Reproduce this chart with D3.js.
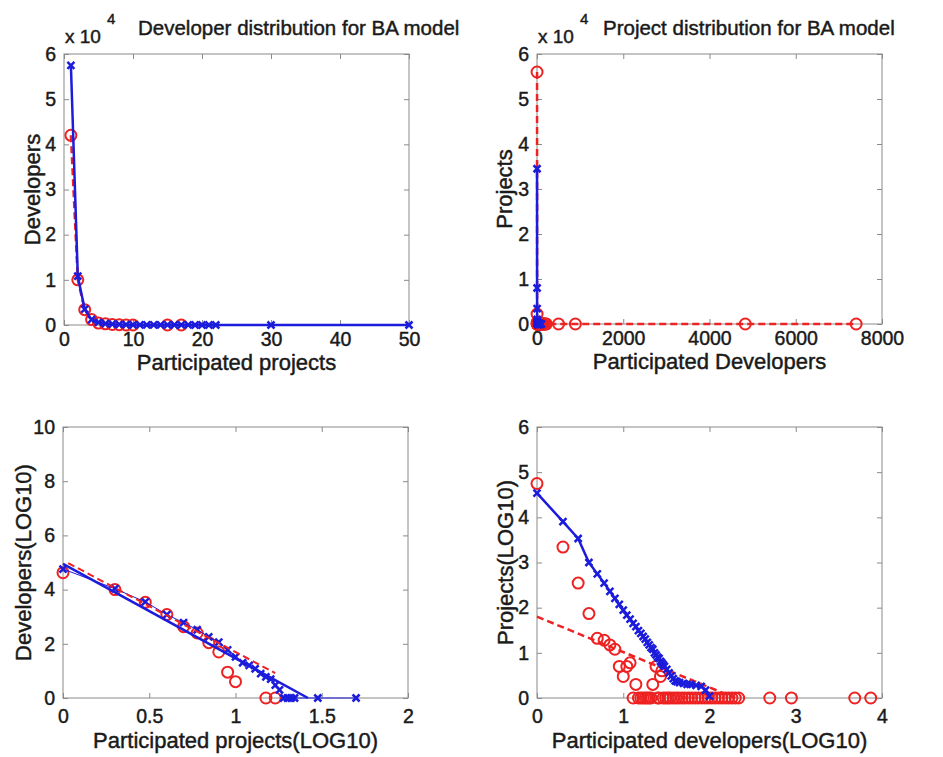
<!DOCTYPE html>
<html>
<head>
<meta charset="utf-8">
<script src="https://cdn.jsdelivr.net/npm/d3@7"></script>
<style>
  body { margin: 0; background: #fff; }
  text { font-family: "Liberation Sans", Arial, sans-serif; fill: #1a1a1a; stroke: #1a1a1a; stroke-width: 0.45px; }
</style>
</head>
<body>
<div id="chart"></div>
<script>
// ---- developer distribution (participated projects -> number of developers)
const devDegBlue = [1, 2, 3, 4, 5, 6, 7, 8, 9, 10, 11, 12, 13, 14, 15, 16, 17, 18, 19, 20, 21, 22, 30, 50]
const devCntBlue = [57500, 10800, 3500, 1200, 600, 330, 180, 115, 60, 33, 20, 16, 12, 8, 6, 5, 3, 2, 1, 1, 1, 1, 1, 1]
const devDegRed = [1, 2, 3, 4, 5, 6, 7, 8, 9, 10, 15, 17]
const devCntRed = [42000, 10000, 3400, 1200, 430, 250, 110, 50, 9, 4, 1, 1]
// fitted lines in log10 space
const devFitBlueX = [0, 1.42]
const devFitBlueY = [4.95, 0]
const devFitRedX = [0.03, 1.23]
const devFitRedY = [4.98, 0.92]

// ---- project distribution (participated developers -> number of projects)
const projDegBlue = [1, 2, 3, 4, 5, 6, 7, 8, 9, 10, 11, 12, 13, 14, 15, 16, 17, 18, 19, 20, 21, 22, 23, 24, 25,
  26, 27, 28, 29, 30, 32, 34, 36, 38, 40, 42, 45, 50, 55, 60, 70, 80, 90, 100]
const projCntBlue = [34500, 8000, 3400, 1000, 560, 350, 230, 160, 118, 88, 68, 56, 45, 38, 31, 27, 23, 20, 17, 15, 13, 12, 10, 9, 8,
  7.5, 6.5, 6, 5.5, 5, 4.3, 3.6, 3.1, 2.7, 2.4, 2.3, 2.2, 2.1, 2.0, 2.0, 1.9, 1.8, 1.5, 1.1]
const projDegRed = [1, 2, 3, 4, 5, 6, 7, 8, 9, 10, 11, 12, 13, 14, 15, 16, 17, 18, 19, 20, 21, 22, 24, 25, 26, 27, 28, 29,
  31, 33, 35, 38, 41, 44, 48, 52, 57, 62, 68, 74, 81, 89, 97, 106, 116, 127, 139, 152, 166, 182, 199, 218, 500, 890, 4830, 7400]
const projCntRed = [56000, 2200, 350, 74, 21, 19, 15, 12, 5, 3, 5, 6, 1, 2, 1, 1, 1, 1, 1, 1, 1, 2, 5, 1, 1, 3, 4, 1,
  1, 1, 1, 1, 1, 1, 1, 1, 1, 1, 1, 1, 1, 1, 1, 1, 1, 1, 1, 1, 1, 1, 1, 1, 1, 1, 1, 1]
const projFitRedX = [0, 2.3]
const projFitRedY = [1.8, 0]

// ---- ticks and labels
const devLinXTicks = [0, 10, 20, 30, 40, 50]
const projLinXTicks = [0, 2000, 4000, 6000, 8000]
const linYTicks = [0, 10000, 20000, 30000, 40000, 50000, 60000]
const devLogXTicks = [0, 0.5, 1, 1.5, 2]
const devLogYTicks = [0, 2, 4, 6, 8, 10]
const projLogXTicks = [0, 1, 2, 3, 4]
const projLogYTicks = [0, 1, 2, 3, 4, 5, 6]

const titles = ['Developer distribution for BA model', 'Project distribution for BA model']
const xLabels = ['Participated projects', 'Participated Developers', 'Participated projects(LOG10)', 'Participated developers(LOG10)']
const yLabels = ['Developers', 'Projects', 'Developers(LOG10)', 'Projects(LOG10)']

const BLUE = '#1c1cdc'
const RED = '#ee2222'
const GRAY = '#8a8a8a'

const svg = d3.select('#chart').append('svg')
  .attr('width', 943)
  .attr('height', 757)

svg.append('rect').attr('width', 943).attr('height', 757).attr('fill', '#fff')

const log = v => Math.log10(v)
const zip = (xs, ys) => xs.map((x, i) => [x, ys[i]])

const panels = [
  {
    box: { x0: 64, x1: 409, y0: 54, y1: 325 }, pad: 7, labelDy: 45,
    xDomain: [0, 50], yDomain: [0, 60000],
    xTicks: devLinXTicks, yTicks: linYTicks, xFmt: d => d, yFmt: d => d / 10000,
    xLabel: xLabels[0], yLabel: yLabels[0], yLabelX: 40,
    series: [
      { pts: zip(devDegRed, devCntRed), color: RED, dash: '7,4', lw: 2.5, marker: 'o' },
      { pts: zip(devDegBlue, devCntBlue), color: BLUE, dash: null, lw: 2.5, marker: 'x' }
    ]
  },
  {
    box: { x0: 537, x1: 882, y0: 54, y1: 324 }, pad: 7, labelDy: 45,
    xDomain: [0, 8000], yDomain: [0, 60000],
    xTicks: projLinXTicks, yTicks: linYTicks, xFmt: d => d, yFmt: d => d / 10000,
    xLabel: xLabels[1], yLabel: yLabels[1], yLabelX: 512,
    series: [
      { pts: zip(projDegRed, projCntRed), color: RED, dash: '7,4', lw: 2.5, marker: 'o' },
      { pts: zip(projDegBlue, projCntBlue), color: BLUE, dash: null, lw: 2.5, marker: 'x' }
    ]
  },
  {
    box: { x0: 63, x1: 408, y0: 427, y1: 698 }, pad: 11, labelDy: 50,
    xDomain: [0, 2], yDomain: [0, 10],
    xTicks: devLogXTicks, yTicks: devLogYTicks, xFmt: d => d, yFmt: d => d,
    xLabel: xLabels[2], yLabel: yLabels[2], yLabelX: 31,
    series: [
      { pts: zip(devDegRed.map(log), devCntRed.map(log)), color: RED, dash: null, lw: 0, marker: 'o' },
      { pts: zip(devDegBlue.map(log), devCntBlue.map(log)), color: BLUE, dash: null, lw: 1, marker: 'x' },
      { pts: zip(devFitBlueX, devFitBlueY), color: BLUE, dash: null, lw: 2.5, marker: null },
      { pts: zip(devFitRedX, devFitRedY), color: RED, dash: '7,4', lw: 2, marker: null }
    ]
  },
  {
    box: { x0: 537, x1: 882, y0: 427, y1: 698 }, pad: 11, labelDy: 50,
    xDomain: [0, 4], yDomain: [0, 6],
    xTicks: projLogXTicks, yTicks: projLogYTicks, xFmt: d => d, yFmt: d => d,
    xLabel: xLabels[3], yLabel: yLabels[3], yLabelX: 513,
    series: [
      { pts: zip(projDegRed.map(log), projCntRed.map(log)), color: RED, dash: null, lw: 0, marker: 'o' },
      { pts: zip(projFitRedX, projFitRedY), color: RED, dash: '7,4', lw: 2.5, marker: null },
      { pts: zip(projDegBlue.map(log), projCntBlue.map(log)), color: BLUE, dash: null, lw: 2.5, marker: 'x' }
    ]
  }
]

panels.forEach(p => {
  const b = p.box
  const x = d3.scaleLinear().domain(p.xDomain).range([b.x0, b.x1])
  const y = d3.scaleLinear().domain(p.yDomain).range([b.y1, b.y0])
  const g = svg.append('g')

  // frame
  g.append('rect')
    .attr('x', b.x0).attr('y', b.y0)
    .attr('width', b.x1 - b.x0).attr('height', b.y1 - b.y0)
    .attr('fill', '#fff').attr('stroke', GRAY).attr('stroke-width', 1)

  // axes with inward ticks on all four sides
  const axes = [
    g.append('g').attr('transform', `translate(0,${b.y1})`)
      .call(d3.axisBottom(x).tickValues(p.xTicks).tickFormat(p.xFmt).tickSize(-5).tickPadding(p.pad)),
    g.append('g').attr('transform', `translate(${b.x0},0)`)
      .call(d3.axisLeft(y).tickValues(p.yTicks).tickFormat(p.yFmt).tickSize(-5).tickPadding(8)),
    g.append('g').attr('transform', `translate(0,${b.y0})`)
      .call(d3.axisTop(x).tickValues(p.xTicks).tickFormat('').tickSize(-5)),
    g.append('g').attr('transform', `translate(${b.x1},0)`)
      .call(d3.axisRight(y).tickValues(p.yTicks).tickFormat('').tickSize(-5))
  ]
  axes.forEach(a => {
    a.select('.domain').remove()
    a.selectAll('line').attr('stroke', GRAY)
    a.selectAll('text').attr('font-size', 19.5).attr('fill', '#1a1a1a')
      .style('font-family', '"Liberation Sans", Arial, sans-serif')
  })

  // data
  const line = d3.line().x(d => x(d[0])).y(d => y(d[1]))
  p.series.forEach(s => {
    if (s.lw > 0) {
      g.append('path')
        .attr('d', line(s.pts))
        .attr('fill', 'none')
        .attr('stroke', s.color)
        .attr('stroke-width', s.lw)
        .attr('stroke-dasharray', s.dash)
        .attr('stroke-linejoin', 'round')
    }
    if (s.marker === 'o') {
      g.selectAll(null).data(s.pts).enter().append('circle')
        .attr('cx', d => x(d[0])).attr('cy', d => y(d[1]))
        .attr('r', 5.5)
        .attr('fill', 'none').attr('stroke', s.color).attr('stroke-width', 2)
    } else if (s.marker === 'x') {
      g.selectAll(null).data(s.pts).enter().append('path')
        .attr('transform', d => `translate(${x(d[0])},${y(d[1])})`)
        .attr('d', 'M-3.5,-3.5L3.5,3.5M-3.5,3.5L3.5,-3.5')
        .attr('stroke', s.color).attr('stroke-width', 2.5)
    }
  })

  // axis labels
  g.append('text')
    .attr('x', (b.x0 + b.x1) / 2).attr('y', b.y1 + p.labelDy)
    .attr('text-anchor', 'middle').attr('font-size', 22)
    .text(p.xLabel)
  g.append('text')
    .attr('transform', `translate(${p.yLabelX},${(b.y0 + b.y1) / 2}) rotate(-90)`)
    .attr('text-anchor', 'middle').attr('font-size', 22)
    .text(p.yLabel)
})

// titles and exponent labels of the linear plots
svg.append('text').attr('x', 138).attr('y', 35).attr('font-size', 20.5).text(titles[0])
svg.append('text').attr('x', 603).attr('y', 35).attr('font-size', 20.5).text(titles[1])
;[64, 537].forEach(x0 => {
  svg.append('text').attr('x', x0 + 1).attr('y', 43).attr('font-size', 19).text('x 10')
  svg.append('text').attr('x', x0 + 43).attr('y', 24).attr('font-size', 15).text('4')
})
</script>
</body>
</html>
